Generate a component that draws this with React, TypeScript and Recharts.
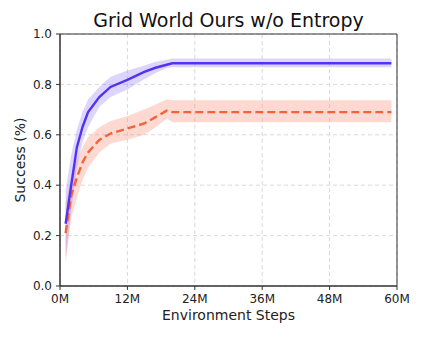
import { ComposedChart, Area, Line, XAxis, YAxis, CartesianGrid, ReferenceArea, Label } from "recharts";

// environment steps (millions)
const steps = [1, 2, 3, 4, 5, 7, 9, 12, 15, 17, 19, 20, 30, 40, 50, 59];

const oursMean = [0.247, 0.4, 0.55, 0.63, 0.69, 0.75, 0.79, 0.818, 0.85, 0.866, 0.878, 0.884, 0.884, 0.884, 0.884, 0.884];
const oursLow = [0.11, 0.3, 0.47, 0.57, 0.63, 0.71, 0.75, 0.78, 0.82, 0.845, 0.865, 0.868, 0.868, 0.868, 0.868, 0.868];
const oursHigh = [0.38, 0.52, 0.62, 0.69, 0.74, 0.79, 0.83, 0.855, 0.875, 0.89, 0.898, 0.903, 0.903, 0.903, 0.903, 0.903];

const noEntMean = [0.21, 0.36, 0.43, 0.49, 0.53, 0.58, 0.605, 0.625, 0.645, 0.67, 0.696, 0.69, 0.69, 0.69, 0.69, 0.69];
const noEntLow = [0.09, 0.27, 0.35, 0.42, 0.47, 0.53, 0.565, 0.58, 0.6, 0.63, 0.665, 0.65, 0.65, 0.65, 0.65, 0.65];
const noEntHigh = [0.33, 0.44, 0.5, 0.55, 0.59, 0.63, 0.655, 0.675, 0.7, 0.72, 0.74, 0.737, 0.737, 0.737, 0.737, 0.737];

const xTicks = [0, 12, 24, 36, 48, 60];
const yTicks = [0, 0.2, 0.4, 0.6, 0.8, 1.0];

const data = steps.map((s, i) => ({
  step: s,
  ours: oursMean[i],
  oursBand: [oursLow[i], oursHigh[i]],
  noEnt: noEntMean[i],
  noEntBand: [noEntLow[i], noEntHigh[i]],
}));

const font = "'DejaVu Sans', sans-serif";
const tickStyle = { fontSize: 12, fill: "#222", fontFamily: font };

export default function App() {
  return (
    <div style={{ position: "absolute", left: 0, top: 0, width: 422, height: 338, background: "#fff" }}>
      <div
        style={{
          position: "absolute",
          left: 60,
          width: 337,
          top: 11,
          textAlign: "center",
          fontFamily: font,
          fontSize: 19,
          lineHeight: "19px",
          color: "#111",
        }}
      >
        Grid World Ours w/o Entropy
      </div>
      <ComposedChart
        width={422}
        height={338}
        data={data}
        margin={{ top: 34, right: 25, left: 0, bottom: 0 }}
      >
        <CartesianGrid strokeDasharray="4 3" stroke="#d9d9d9" />
        <XAxis
          dataKey="step"
          type="number"
          domain={[0, 60]}
          ticks={xTicks}
          tickFormatter={(v) => `${v}M`}
          tick={tickStyle}
          tickSize={4}
          tickMargin={4}
          stroke="#333"
          height={52}
        >
          <Label
            value="Environment Steps"
            position="insideBottom"
            offset={18}
            style={{ fontSize: 14, fill: "#222", fontFamily: font }}
          />
        </XAxis>
        <YAxis
          type="number"
          domain={[0, 1]}
          ticks={yTicks}
          tickFormatter={(v) => v.toFixed(1)}
          tick={tickStyle}
          tickSize={4}
          tickMargin={4}
          stroke="#333"
          width={60}
        >
          <Label
            value="Success (%)"
            angle={-90}
            position="insideLeft"
            offset={20}
            style={{ fontSize: 14, fill: "#222", fontFamily: font, textAnchor: "middle" }}
          />
        </YAxis>
        <ReferenceArea x1={0} x2={60} y1={0} y2={1} fill="none" stroke="#333" strokeWidth={1} ifOverflow="visible" />
        <Area
          dataKey="noEntBand"
          type="linear"
          stroke="none"
          fill="#f98a70"
          fillOpacity={0.32}
          isAnimationActive={false}
        />
        <Area
          dataKey="oursBand"
          type="linear"
          stroke="none"
          fill="#8c78ff"
          fillOpacity={0.3}
          isAnimationActive={false}
        />
        <Line
          dataKey="noEnt"
          type="linear"
          stroke="#f4623c"
          strokeWidth={2.4}
          strokeDasharray="8 4"
          dot={false}
          isAnimationActive={false}
        />
        <Line
          dataKey="ours"
          type="linear"
          stroke="#5533ee"
          strokeWidth={2.4}
          dot={false}
          isAnimationActive={false}
        />
      </ComposedChart>
    </div>
  );
}
